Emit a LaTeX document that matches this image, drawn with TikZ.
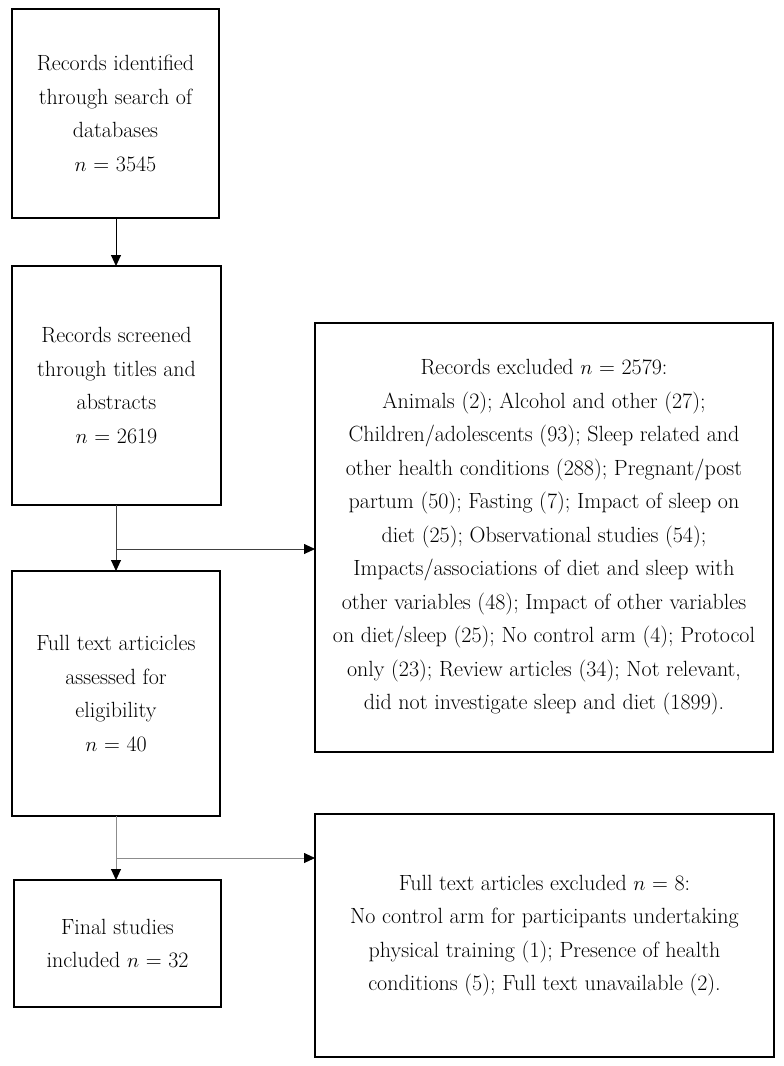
\documentclass[tikz,border=0pt]{standalone}
\usetikzlibrary{arrows.meta}
\begin{document}
\begin{tikzpicture}[x=1pt,y=-1pt,
  every node/.style={inner sep=0pt,outer sep=0pt},
  boxnode/.style={draw=black,line width=1.2pt,rectangle,align=center,
    font=\fontsize{22}{33.5}\selectfont},
  link/.style={line width=0.9pt,-{Triangle[length=11pt,width=10pt,color=black]}}]
\useasboundingbox (0,0) rectangle (784,1066);
\node[boxnode,minimum width=207pt,minimum height=209pt] (b1) at (115.5,113.5)
  {Records identified\\through search of\\databases\\$n$ = 3545};
\node[boxnode,minimum width=209pt,minimum height=239pt] (b2) at (116.5,385.5)
  {Records screened\\through titles and\\abstracts\\$n$ = 2619};
\node[boxnode,minimum width=208pt,minimum height=245pt] (b3) at (116,693.5)
  {Full text articicles\\assessed for\\eligibility\\$n$ = 40};
\node[boxnode,minimum width=207pt,minimum height=127pt] (b4) at (117.5,943.5)
  {Final studies\\included $n$ = 32};
\node[boxnode,minimum width=458pt,minimum height=429pt] (r1) at (544,537.5)
  {Records excluded $n$ = 2579:\\
   Animals (2); Alcohol and other (27);\\
   Children/adolescents (93); Sleep related and\\
   other health conditions (288); Pregnant/post\\
   partum (50); Fasting (7); Impact of sleep on\\
   diet (25); Observational studies (54);\\
   Impacts/associations of diet and sleep with\\
   other variables (48); Impact of other variables\\
   on diet/sleep (25); No control arm (4); Protocol\\
   only (23); Review articles (34); Not relevant,\\
   did not investigate sleep and diet (1899).};
\node[boxnode,minimum width=459pt,minimum height=243pt] (r2) at (544.5,935.5)
  {Full text articles excluded $n$ = 8:\\
   No control arm for participants undertaking\\
   physical training (1); Presence of health\\
   conditions (5); Full text unavailable (2).};
\coordinate (j1) at (116,549);
\coordinate (j2) at (116,858);
\draw[link] (b1.south -| j1) -- (b2.north -| j1);
\draw[link,draw=black!75] (b2.south -| j1) -- (b3.north -| j1);
\draw[link,draw=black!75] (j1) -- (j1 -| r1.west);
\draw[link,draw=black!45] (b3.south -| j2) -- (b4.north -| j2);
\draw[link,draw=black!45] (j2) -- (j2 -| r2.west);
\end{tikzpicture}
\end{document}
